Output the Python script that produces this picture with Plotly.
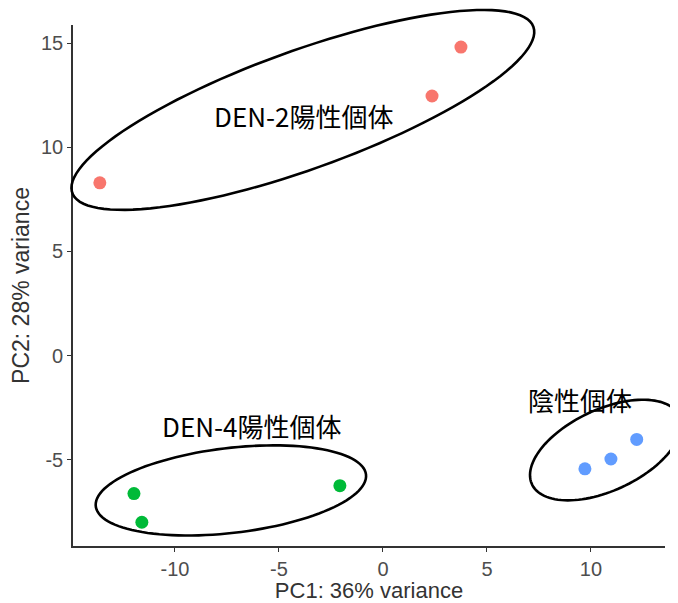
import numpy as np
import plotly.graph_objects as go

# ---- data ----
groups = ["DEN-2", "DEN-4", "negative"]
pc1_den2 = [-13.61, 2.36, 3.75]
pc2_den2 = [8.30, 12.47, 14.82]
pc1_den4 = [-11.97, -11.59, -2.07]
pc2_den4 = [-6.63, -8.01, -6.25]
pc1_neg = [9.71, 10.96, 12.20]
pc2_neg = [-5.44, -4.97, -4.03]
colors = ["#F8766D", "#00BA38", "#619CFF"]

x_ticks = [-10, -5, 0, 5, 10]
y_ticks = [-5, 0, 5, 10, 15]
x_range = [-14.90, 13.56]
y_range = [-9.15, 15.88]

# ellipse annotations: centre x, centre y, semi-major, semi-minor, angle (deg)
ell_den2 = (-3.85, 11.80, 11.78, 2.84, 19.8)
ell_den4 = (-7.31, -6.48, 6.54, 2.04, 6.7)
ell_neg = (10.70, -4.54, 3.90, 1.95, 25.0)

labels = ["DEN-2陽性個体", "DEN-4陽性個体", "陰性個体"]
label_x = [-3.80, -6.30, 9.47]
label_y = [11.51, -3.36, -2.11]

fig = go.Figure()
for xs, ys, c in zip([pc1_den2, pc1_den4, pc1_neg], [pc2_den2, pc2_den4, pc2_neg], colors):
    fig.add_trace(go.Scatter(x=xs, y=ys, mode="markers",
                             marker=dict(color=c, size=13, line=dict(width=0)),
                             showlegend=False))


def ellipse_path(cx, cy, a, b, ang):
    t = np.linspace(0, 2 * np.pi, 120)
    th = np.deg2rad(ang)
    x = cx + a * np.cos(t) * np.cos(th) - b * np.sin(t) * np.sin(th)
    y = cy + a * np.cos(t) * np.sin(th) + b * np.sin(t) * np.cos(th)
    px = (x - x_range[0]) / (x_range[1] - x_range[0])
    py = (y - y_range[0]) / (y_range[1] - y_range[0])
    d = "M " + " L ".join(f"{u:.5f},{v:.5f}" for u, v in zip(px, py)) + " Z"
    return d


for e in [ell_den2, ell_den4, ell_neg]:
    fig.add_shape(type="path", path=ellipse_path(*e), xref="paper", yref="paper",
                  line=dict(color="black", width=2.6), fillcolor="rgba(0,0,0,0)")

for t, x, y in zip(labels, label_x, label_y):
    fig.add_annotation(x=x, y=y, xref="x", yref="y", text=t, showarrow=False,
                       font=dict(family="Noto Sans CJK JP", size=26, color="black"))

axis_common = dict(showgrid=False, zeroline=False, showline=True, linecolor="#333333",
                   linewidth=1.6, ticks="outside", ticklen=4, tickwidth=1.2,
                   tickcolor="#333333", automargin=False,
                   tickfont=dict(family="Liberation Sans, Arial", size=20, color="#4d4d4d"))

fig.update_xaxes(range=x_range, tickvals=x_ticks, ticktext=[str(v) for v in x_ticks],
                 title=dict(text="PC1: 36% variance", standoff=12,
                            font=dict(family="Liberation Sans, Arial", size=22, color="#333333")),
                 **axis_common)
fig.update_yaxes(range=y_range, tickvals=y_ticks, ticktext=[str(v) for v in y_ticks],
                 title=dict(text="PC2: 28% variance", standoff=11,
                            font=dict(family="Liberation Sans, Arial", size=23, color="#333333")),
                 **axis_common)

# the page adds an 8 px body margin, so the figure is sized to fit the window
fig.update_layout(width=670, height=595, plot_bgcolor="white", paper_bgcolor="white",
                  margin=dict(l=65, r=13, t=17, b=57))

fig.write_html("out.html")
